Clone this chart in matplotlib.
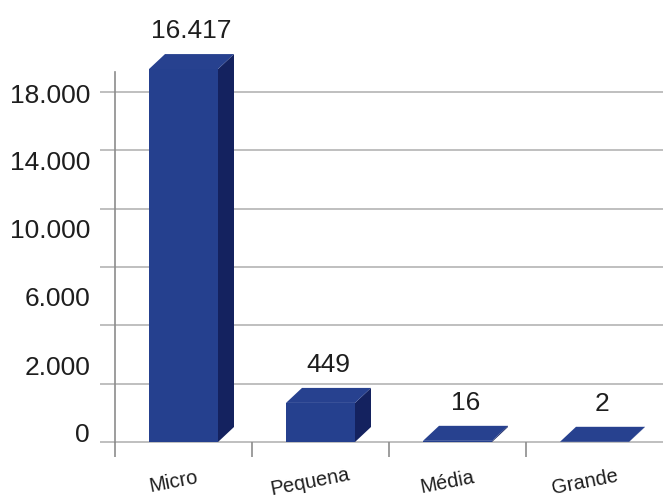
import numpy as np
import matplotlib.pyplot as plt
from matplotlib.patches import Polygon
from matplotlib.transforms import ScaledTranslation

# Data
categories = ["Micro", "Pequena", "Média", "Grande"]
value_labels = ["16.417", "449", "16", "2"]
bar_heights = [19180, 2010, 60, 10]  # drawn heights on the (odd) axis scale
grid_values = [0, 3000, 6000, 9000, 12000, 15000, 18000]
ytick_pos = [480, 3960, 7470, 11000, 14470, 17900]
ytick_labels = ["0", "2.000", "6.000", "10.000", "14.000", "18.000"]

plt.rcParams['font.family'] = ['Liberation Sans', 'DejaVu Sans']

front_col = "#25408e"
side_col = "#14225f"
top_col = "#27418f"
grid_col = "#b4b4b4"
axis_col = "#8c8c8c"
text_col = "#1e1e1e"

fig = plt.figure(figsize=(6.63, 5.01), dpi=100)
W, H = 663, 501
ax = fig.add_axes([115 / W, 59 / H, 548 / W, 370 / H])
ymax = 370 / 58.33 * 3000
ax.set_xlim(-0.5, 3.5)
ax.set_ylim(0, ymax)

# pixel -> data conversion for the 3D depth
px_x = 1 / 137.0
px_y = 3000 / 58.33
dx, dy = 16 * px_x, 15 * px_y
w = 69 * px_x

# gridlines (with little stubs to the left of the axis)
ax.hlines(grid_values, -15 / 548, 1, transform=ax.get_yaxis_transform(),
          colors=grid_col, lw=1.2, clip_on=False, zorder=1)

x = np.arange(len(categories))
ax.bar(x, bar_heights, width=w, color=front_col, zorder=3, clip_on=False)
for xi, h in zip(x, bar_heights):
    r = xi + w / 2
    l = xi - w / 2
    side = Polygon([(r, 0), (r + dx, dy), (r + dx, h + dy), (r, h)],
                   closed=True, fc=side_col, ec='none', zorder=3, clip_on=False)
    top = Polygon([(l, h), (l + dx, h + dy), (r + dx, h + dy), (r, h)],
                  closed=True, fc=top_col, ec='none', zorder=3, clip_on=False)
    ax.add_patch(side)
    ax.add_patch(top)

for xi, h, lab in zip(x, bar_heights, value_labels):
    ax.annotate(lab, (xi + dx / 2, h + dy), xytext=(0, 8),
                textcoords='offset points', ha='center', va='bottom',
                fontsize=19, color=text_col, annotation_clip=False)

# category labels, slightly rotated
off = ScaledTranslation(-10 / 100, -40 / 100, fig.dpi_scale_trans)
for xi, cat in zip(x, categories):
    ax.text(xi, 0, cat, transform=ax.transData + off, ha='center',
            va='center', rotation=11, fontsize=14.5, color=text_col)

ax.set_xticks(np.arange(-0.5, 3.0, 1.0))
ax.set_xticklabels([])
ax.tick_params(axis='x', length=10.8, width=1.2, color=axis_col, direction='out')

ax.set_yticks(ytick_pos, ytick_labels)
ax.tick_params(axis='y', length=0, pad=18, labelsize=19, labelcolor=text_col)

for s in ['top', 'right', 'bottom']:
    ax.spines[s].set_visible(False)
ax.spines['left'].set_color(axis_col)
ax.spines['left'].set_linewidth(1.2)
ax.set_facecolor('none')

fig.savefig("out.png", dpi=100)
